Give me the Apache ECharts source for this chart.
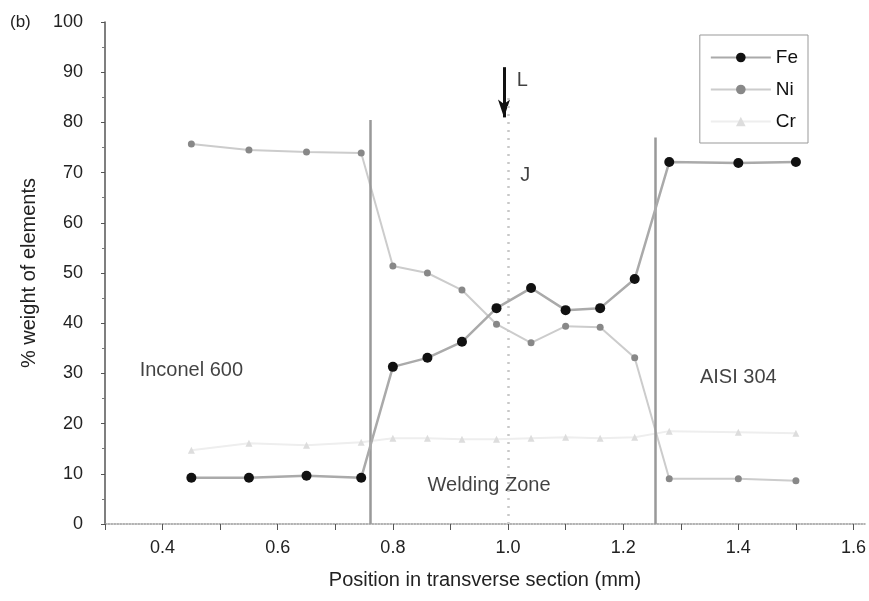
<!DOCTYPE html>
<html>
<head>
<meta charset="utf-8">
<script src="https://cdn.jsdelivr.net/npm/echarts@6/dist/echarts.min.js"></script>
<style>
  html, body { margin: 0; padding: 0; background: #fff; }
  #chart { width: 869px; height: 601px; }
</style>
</head>
<body>
<div id="chart"></div>
<script>
// measured positions (mm) and element weights (%)
const positions = [0.45, 0.55, 0.65, 0.745, 0.80, 0.86, 0.92, 0.98, 1.04, 1.10, 1.16, 1.22, 1.28, 1.40, 1.50]
const fe = [9.2, 9.2, 9.6, 9.2, 31.3, 33.1, 36.3, 43.0, 47.0, 42.6, 43.0, 48.8, 72.1, 71.9, 72.1]
const ni = [75.7, 74.5, 74.1, 73.9, 51.4, 50.0, 46.6, 39.8, 36.1, 39.4, 39.2, 33.1, 9.0, 9.0, 8.6]
const cr = [14.7, 16.1, 15.7, 16.3, 17.1, 17.1, 16.9, 16.9, 17.1, 17.3, 17.1, 17.3, 18.5, 18.3, 18.1]

// fusion boundaries: [x, top]
const boundaries = [[0.76, 80.5], [1.255, 77]]
const centerLine = [1.0, 85]
const arrow = [0.993, 91, 81]

// region annotations: [x, y, text]
const notes = [
  [0.45, 30.5, 'Inconel 600'],
  [1.40, 29.2, 'AISI 304'],
  [0.967, 7.6, 'Welding Zone'],
  [1.025, 88.3, 'L'],
  [1.03, 69.5, 'J'],
]

const font = 'Liberation Sans, Arial, sans-serif'
const pair = (ys) => positions.map((x, i) => [x, ys[i]])

const chart = echarts.init(document.getElementById('chart'))

chart.setOption({
  backgroundColor: '#fff',
  animation: false,
  textStyle: { fontFamily: font },
  graphic: [
    { type: 'text', left: 10, top: 14, style: { text: '(b)', fontSize: 17, fill: '#222', fontFamily: font } },
  ],
  legend: {
    data: ['Fe', 'Ni', 'Cr'],
    orient: 'vertical',
    align: 'left',
    right: 61,
    top: 35,
    padding: [13, 10, 12, 10],
    itemGap: 13,
    itemWidth: 60,
    itemHeight: 12,
    borderColor: '#999',
    borderWidth: 1,
    textStyle: { fontSize: 19, color: '#111', fontFamily: font, lineHeight: 18 },
  },
  grid: { left: 105, right: 4, top: 22, bottom: 77 },
  xAxis: {
    type: 'value',
    min: 0.3,
    max: 1.62,
    interval: 0.1,
    name: 'Position in transverse section (mm)',
    nameLocation: 'middle',
    nameGap: 46,
    nameTextStyle: { fontSize: 20, color: '#222' },
    axisLine: { lineStyle: { color: '#999', width: 1.5, type: 'dotted' } },
    axisTick: { show: true, length: 6, lineStyle: { color: '#555' } },
    axisLabel: {
      fontSize: 18,
      color: '#222',
      margin: 15,
      showMaxLabel: false,
      formatter: (v) => (Math.round(v * 10) % 2 === 0 ? v.toFixed(1) : ''),
    },
    splitLine: { show: false },
  },
  yAxis: {
    type: 'value',
    min: 0,
    max: 100,
    interval: 10,
    name: '% weight of elements',
    nameLocation: 'middle',
    nameGap: 66,
    nameTextStyle: { fontSize: 20, color: '#222' },
    axisLine: { show: true, lineStyle: { color: '#555', width: 1.5 } },
    axisTick: { show: true, length: 4, lineStyle: { color: '#555' } },
    minorTick: { show: true, splitNumber: 2, length: 3, lineStyle: { color: '#777' } },
    axisLabel: { fontSize: 18, color: '#222', margin: 22 },
    splitLine: { show: false },
  },
  series: [
    {
      name: 'Fe',
      type: 'line',
      data: pair(fe),
      symbol: 'circle',
      symbolSize: 10,
      itemStyle: { color: '#111' },
      lineStyle: { color: '#aaa', width: 2.5 },
      z: 5,
      markLine: {
        silent: true,
        symbol: 'none',
        label: { show: false },
        lineStyle: { color: '#999', width: 2.5, type: 'solid' },
        data: boundaries.map(([x, top]) => [{ coord: [x, 0] }, { coord: [x, top] }]),
      },
    },
    {
      name: 'Ni',
      type: 'line',
      data: pair(ni),
      symbol: 'circle',
      symbolSize: 7,
      itemStyle: { color: '#888' },
      lineStyle: { color: '#ccc', width: 2 },
      z: 4,
      markLine: {
        silent: true,
        symbol: ['none', 'arrow'],
        symbolSize: [9, 18],
        label: { show: false },
        itemStyle: { color: '#111' },
        lineStyle: { color: '#111', width: 3, type: 'solid' },
        data: [[{ coord: [arrow[0], arrow[1]] }, { coord: [arrow[0], arrow[2]] }]],
      },
    },
    {
      name: 'Cr',
      type: 'line',
      data: pair(cr),
      symbol: 'triangle',
      symbolSize: 7,
      itemStyle: { color: '#ddd' },
      lineStyle: { color: '#eee', width: 2 },
      z: 3,
      markLine: {
        silent: true,
        symbol: 'none',
        label: { show: false },
        lineStyle: { color: '#c8c8c8', width: 2.5, type: [2, 6] },
        data: [[{ coord: [centerLine[0], 0] }, { coord: [centerLine[0], centerLine[1]] }]],
      },
    },
    {
      name: 'notes',
      type: 'scatter',
      data: notes.map(([x, y, t]) => ({ value: [x, y], name: t })),
      symbolSize: 0,
      silent: true,
      label: {
        show: true,
        position: 'inside',
        formatter: (p) => p.name,
        fontSize: 20,
        color: '#111',
        textBorderWidth: 0,
        fontFamily: font,
      },
    },
  ],
})
</script>
</body>
</html>
